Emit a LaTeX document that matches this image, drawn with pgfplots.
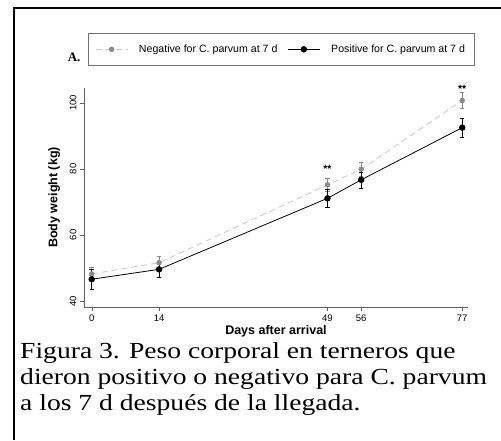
\documentclass[border=0pt]{standalone}
\usepackage{pgfplots}
\pgfplotsset{compat=1.18}
\usepackage{fontspec}
\setmainfont{Liberation Sans}
\newfontfamily\capfont[FakeStretch=1.2]{Liberation Serif}
\newfontfamily\serifb{Liberation Serif}
\definecolor{markgray}{HTML}{8A8A8A}
\definecolor{dashcol}{HTML}{CFC4C2}
\definecolor{axcol}{HTML}{606060}
\pgfplotstableread{
x y e
0 48.2 2.0
14 51.6 2.0
49 75.2 2.0
56 79.9 2.2
77 100.7 2.4
}\negdata
\pgfplotstableread{
x y e
0 46.6 3.0
14 49.6 2.3
49 71.1 2.7
56 76.7 2.4
77 92.5 2.9
}\posdata
\begin{document}
\begin{tikzpicture}[x=1pt,y=1pt]
\path[use as bounding box] (0pt,0pt) rectangle (501pt,440pt);
\draw[line width=2.4pt] (14pt,0pt) -- (14pt,432pt) -- (501pt,432pt);
\begin{axis}[
  at={(84pt,133pt)}, anchor=south west, scale only axis,
  width=384pt, height=219pt,
  xmin=-1.6, xmax=78.2, ymin=38.2, ymax=104.5,
  axis x line=bottom, axis y line=left,
  axis line style={draw=axcol, -},
  xtick={0,14,49,56,77}, ytick={40,60,80,100},
  tick align=outside, major tick length=4pt,
  tick style={axcol},
  /pgf/number format/assume math mode=true,
  ticklabel style={font=\fontsize{9.5}{10}\selectfont},
  yticklabel style={rotate=90, anchor=south},
  xlabel={Days after arrival},
  ylabel={Body weight (kg)},
  label style={font=\bfseries\fontsize{12.5}{13}\selectfont},
  xlabel style={at={(axis description cs:0.5,-0.112)}, anchor=center},
  ylabel style={at={(axis description cs:-0.078,0.5)}, anchor=center},
  legend columns=2,
  legend style={at={(axis description cs:0.0104,1.251)}, anchor=north west,
    draw=black!55, font=\fontsize{10.6}{11}\selectfont,
    inner xsep=7pt, inner ysep=9.5pt,
    /tikz/every odd column/.append style={column sep=9pt},
    /tikz/every even column/.append style={column sep=8pt}},
  legend image code/.code={\draw[mark repeat=2,mark phase=2,#1] plot coordinates {(0pt,0pt) (16pt,0pt) (32pt,0pt)};},
  clip=false,
]
\addplot[dashcol, dash pattern=on 6pt off 4pt, thick, mark=*, mark size=2.3pt,
  mark options={solid, fill=markgray, draw=markgray},
  error bars/.cd, y dir=both, y explicit,
  error bar style={markgray, solid},
  error mark options={rotate=90, markgray, mark size=2.2pt}]
  table[x=x, y=y, y error=e] {\negdata};
\addlegendentry{Negative for C. parvum at 7 d}
\addplot[black, thick, mark=*, mark size=2.8pt,
  error bars/.cd, y dir=both, y explicit,
  error bar style={black, solid},
  error mark options={rotate=90, black, mark size=2.2pt}]
  table[x=x, y=y, y error=e] {\posdata};
\addlegendentry{Positive for C. parvum at 7 d}
\node[anchor=base, font=\bfseries\fontsize{10.5}{10}\selectfont] at (axis cs:49,79.0) {**};
\node[anchor=base, font=\bfseries\fontsize{10.5}{10}\selectfont] at (axis cs:77,103.0) {**};
\end{axis}
\node[anchor=base east, font=\serifb\bfseries\fontsize{13}{13}\selectfont] at (84pt,378pt) {A.};
\node[anchor=base west, inner sep=0pt, font=\capfont\fontsize{23}{26}\selectfont] at (20pt,82pt) {Figura 3. Peso corporal en terneros que};
\node[anchor=base west, inner sep=0pt, font=\capfont\fontsize{23}{26}\selectfont] at (20pt,56pt) {dieron positivo o negativo para C. parvum};
\node[anchor=base west, inner sep=0pt, font=\capfont\fontsize{23}{26}\selectfont] at (20pt,30pt) {a los 7 d después de la llegada.};
\end{tikzpicture}
\end{document}
